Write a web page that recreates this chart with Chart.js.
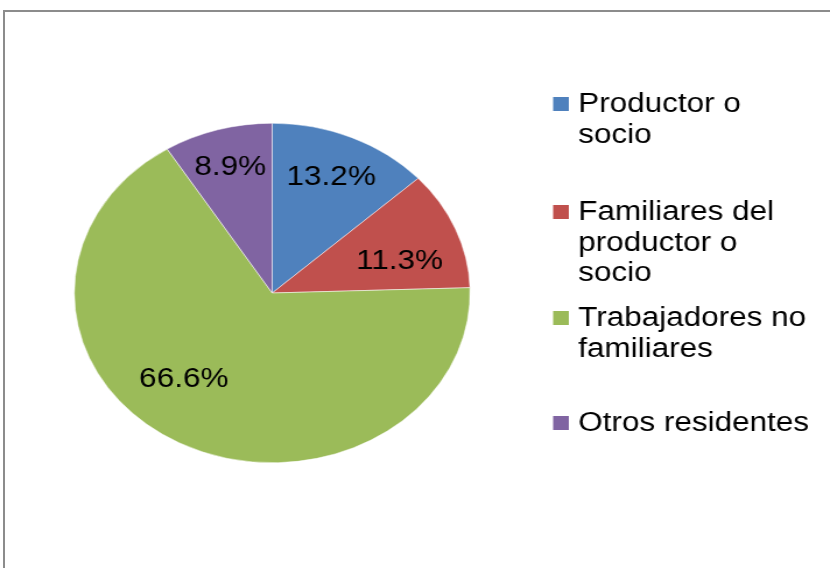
<!DOCTYPE html>
<html>
<head>
<meta charset="utf-8">
<script src="https://cdn.jsdelivr.net/npm/chart.js@4"></script>
<style>
  html, body { margin: 0; padding: 0; background: #fff; overflow: hidden; }
  body { width: 830px; height: 568px; position: relative; }
  #frame { position: absolute; left: 3px; top: 10px; width: 900px; height: 700px; border: 2px solid #8c8c8c; }
  #wrap { position: absolute; left: 0; top: 0; width: 712px; height: 568px; transform: scaleX(1.1657); transform-origin: 0 0; }
</style>
</head>
<body>
<div id="frame"></div>
<div id="wrap"><canvas id="pie" width="712" height="568"></canvas></div>
<script>
const categories = [
    ['Productor o', 'socio'],
    ['Familiares del', 'productor o', 'socio'],
    ['Trabajadores no', 'familiares'],
    ['Otros residentes']
];
const shares = [13.2, 11.3, 66.6, 8.9];
const colors = ['#4F81BD', '#C0504D', '#9BBB59', '#8064A2'];

// where each percentage sits: fraction of radius, angle shift in degrees
const label_place = [[0.74, 0], [0.67, 6], [0.68, 13], [0.77, 0]];
// first line of each legend entry (canvas y)
const legend_rows = [104, 212, 318, 423];

const font_family = '"Liberation Sans", Arial, sans-serif';

const slice_labels = {
    id: 'slice_labels',
    afterDatasetsDraw(chart) {
        const ctx = chart.ctx;
        const meta = chart.getDatasetMeta(0);
        ctx.save();
        ctx.font = '27px ' + font_family;
        ctx.fillStyle = '#000';
        ctx.textAlign = 'center';
        ctx.textBaseline = 'middle';
        meta.data.forEach((arc, i) => {
            const p = arc.getProps(['x', 'y', 'startAngle', 'endAngle', 'outerRadius'], true);
            const mid = (p.startAngle + p.endAngle) / 2 + label_place[i][1] * Math.PI / 180;
            const r = p.outerRadius * label_place[i][0];
            ctx.fillText(shares[i].toFixed(1) + '%', p.x + Math.cos(mid) * r, p.y + Math.sin(mid) * r);
        });
        ctx.restore();
    }
};

const side_legend = {
    id: 'side_legend',
    afterDraw(chart) {
        const ctx = chart.ctx;
        ctx.save();
        ctx.font = '27px ' + font_family;
        ctx.textBaseline = 'middle';
        ctx.textAlign = 'left';
        categories.forEach((lines, i) => {
            const y0 = legend_rows[i];
            ctx.fillStyle = colors[i];
            ctx.fillRect(474.5, y0 - 7, 13.5, 14);
            ctx.fillStyle = '#000';
            lines.forEach((line, j) => {
                ctx.fillText(line, 496, y0 + 1 + j * 30.5);
            });
        });
        ctx.restore();
    }
};

new Chart(document.getElementById('pie'), {
    type: 'pie',
    data: {
        labels: categories.map(l => l.join(' ')),
        datasets: [{
            data: shares,
            backgroundColor: colors,
            borderColor: '#ffffff',
            borderWidth: 0.5
        }]
    },
    options: {
        responsive: false,
        animation: false,
        layout: {
            padding: { left: 63.5, right: 308.5, top: 123, bottom: 105 }
        },
        plugins: {
            legend: { display: false },
            tooltip: { enabled: false }
        }
    },
    plugins: [slice_labels, side_legend]
});
</script>
</body>
</html>
